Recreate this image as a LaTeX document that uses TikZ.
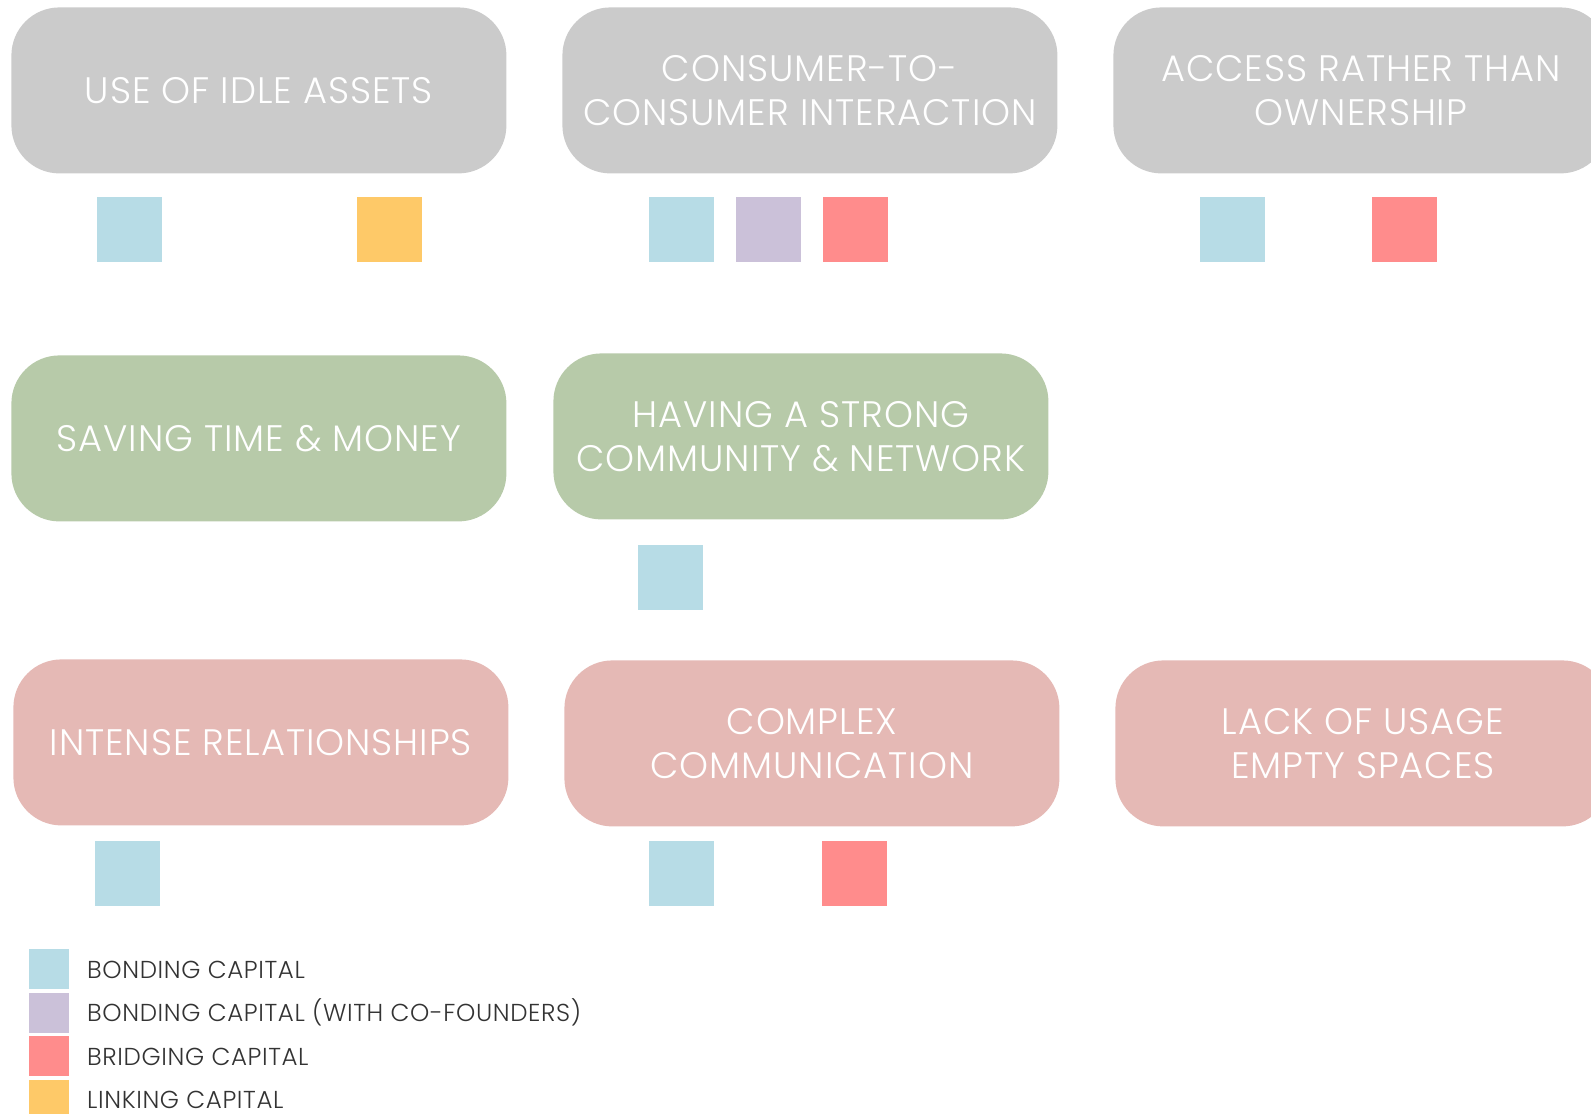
\documentclass[tikz,border=0pt]{standalone}
\usepackage{fontspec}
\setmainfont{Poppins}[UprightFont=* Light,LetterSpace=2.5]
\usetikzlibrary{positioning}

\definecolor{themegray}{HTML}{CBCBCB}
\definecolor{themegreen}{HTML}{B7CAA9}
\definecolor{themepink}{HTML}{E5B9B5}
\definecolor{bonding}{HTML}{B7DCE6}
\definecolor{cofounder}{HTML}{CBC1D9}
\definecolor{bridging}{HTML}{FF8C8C}
\definecolor{linking}{HTML}{FEC968}
\definecolor{legendtext}{HTML}{333333}

\begin{document}
\begin{tikzpicture}[x=0.5bp,y=-0.5bp,font=\fontsize{18.5}{22}\selectfont,
  theme/.style={fill=#1,rounded corners=24bp,anchor=north west,minimum width=247.5bp,
    minimum height=83bp,inner sep=0pt,text=white,align=center},
  chip/.style={fill=#1,anchor=north west,minimum size=32.5bp,inner sep=0pt},
  keychip/.style={fill=#1,anchor=north west,minimum size=20bp,inner sep=0pt},
  keytext/.style={right=8.5bp of #1,inner sep=0pt,text height=8.6bp,text depth=0pt,
    text=legendtext,font=\fontsize{12.3}{15}\selectfont}]
\clip (0,0) rectangle (1591,1113);
% theme boxes
\foreach \name/\col/\x/\y/\txt in {
  idle/themegray/11/7/{USE OF IDLE ASSETS},
  ctoc/themegray/562/7/{CONSUMER-TO-\\CONSUMER INTERACTION},
  access/themegray/1113/7/{ACCESS RATHER THAN\\OWNERSHIP},
  saving/themegreen/11/355/{SAVING TIME \& MONEY},
  community/themegreen/553/353/{HAVING A STRONG\\COMMUNITY \& NETWORK},
  intense/themepink/13/659/{INTENSE RELATIONSHIPS},
  complex/themepink/564/660/{COMPLEX\\COMMUNICATION},
  lack/themepink/1115/660/{LACK OF USAGE\\EMPTY SPACES}}
  \node[theme=\col] (\name) at (\x,\y) {\txt};
% capital chips under the boxes
\foreach \name/\col/\x/\y in {
  idleA/bonding/97/197, idleB/linking/357/197,
  ctocA/bonding/649/197, ctocB/cofounder/736/197, ctocC/bridging/823/197,
  accessA/bonding/1200/197, accessB/bridging/1372/197,
  communityA/bonding/638/545,
  intenseA/bonding/95/841,
  complexA/bonding/649/841, complexB/bridging/822/841}
  \node[chip=\col] (\name) at (\x,\y) {};
% legend
\foreach \i/\col/\txt in {1/bonding/{BONDING CAPITAL},
  2/cofounder/{BONDING CAPITAL (WITH CO-FOUNDERS)},
  3/bridging/{BRIDGING CAPITAL}, 4/linking/{LINKING CAPITAL}}{
  \node[keychip=\col] (key\i) at (29,{949+43.5*(\i-1)}) {};
  \node[keytext=key\i] (keylabel\i) {\txt};
}
\end{tikzpicture}
\end{document}
